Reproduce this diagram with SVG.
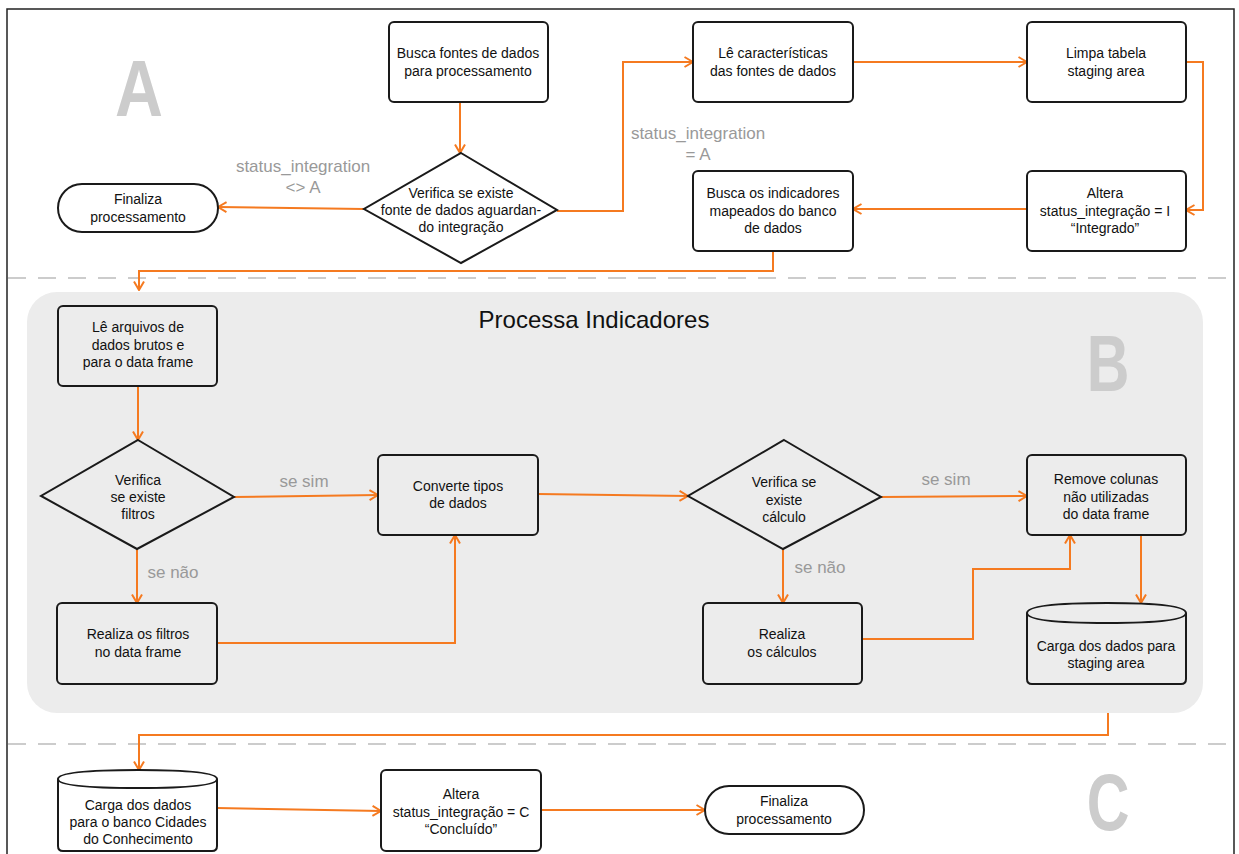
<svg xmlns="http://www.w3.org/2000/svg" width="1239" height="854" viewBox="0 0 1239 854">
  <style>
    .box { fill: #ffffff; stroke: #1a1a1a; stroke-width: 2; }
    .boxg { fill: #ececec; stroke: #1a1a1a; stroke-width: 2; }
    .t { font-family: "Liberation Sans", Arial, sans-serif; font-size: 14px; fill: #111; text-anchor: middle; }
    .lbl { font-family: "Liberation Sans", Arial, sans-serif; font-size: 17px; fill: #999; text-anchor: middle; }
    .big { font-family: "Liberation Sans", Arial, sans-serif; font-size: 80px; font-weight: bold; fill: #cccccc; text-anchor: middle; }
    .title { font-family: "Liberation Sans", Arial, sans-serif; font-size: 24px; fill: #111; text-anchor: middle; }
    .c { fill: none; stroke: #f57a20; stroke-width: 2; marker-end: url(#arr); }
    .dash { stroke: #cccccc; stroke-width: 2; stroke-dasharray: 18 12; }
  </style>
  <defs>
    <marker id="arr" viewBox="0 0 10 12" markerWidth="10" markerHeight="12" refX="9.5" refY="6" orient="auto" markerUnits="userSpaceOnUse">
      <path d="M1,1 L9.5,6 L1,11" fill="none" stroke="#f57a20" stroke-width="2"/>
    </marker>
  </defs>

  <rect width="1239" height="854" fill="#ffffff"/>

  <!-- outer frame -->
  <path d="M7,854 V9 H1234 V854" fill="none" stroke="#222" stroke-width="1.5"/>

  <!-- section separators -->
  <line class="dash" x1="8" y1="278" x2="1233" y2="278"/>
  <line class="dash" x1="8" y1="744" x2="1233" y2="744"/>

  <!-- section B panel -->
  <rect x="27" y="292" width="1176" height="421" rx="30" fill="#ececec"/>

  <!-- section letters -->
  <text class="big" transform="translate(139,116) scale(0.83,1)">A</text>
  <text class="big" transform="translate(1108,391) scale(0.74,1)">B</text>
  <text class="big" transform="translate(1108,830) scale(0.74,1)">C</text>

  <text class="title" x="594" y="328">Processa Indicadores</text>

  <!-- connectors -->
  <g id="connectors">
    <path class="c" d="M460,102 V153"/>
    <path class="c" d="M364,209 L218,207"/>
    <path class="c" d="M557,211 H623 V62 H693"/>
    <path class="c" d="M853,62 H1027"/>
    <path class="c" d="M1186,62 H1203 V210 H1186"/>
    <path class="c" d="M1027,209 H853"/>
    <path class="c" d="M773,251 V271 H139 V290"/>
    <path class="c" d="M138,386 V440"/>
    <path class="c" d="M234,497 L378,495"/>
    <path class="c" d="M137,549 V603"/>
    <path class="c" d="M217,643 H455 V535"/>
    <path class="c" d="M538,494 L688,496"/>
    <path class="c" d="M881,497 L1027,496"/>
    <path class="c" d="M783,549 V603"/>
    <path class="c" d="M862,639 H973 V569 H1070 V535"/>
    <path class="c" d="M1141,535 V603"/>
    <path class="c" d="M1108,713 V735 H139 V770"/>
    <path class="c" d="M217,808 L381,811"/>
    <path class="c" d="M541,810 H705"/>
  </g>

  <!-- connector labels -->
  <text class="lbl" x="303" y="172">status_integration</text>
  <text class="lbl" x="303" y="193">&lt;&gt; A</text>
  <text class="lbl" x="698" y="139">status_integration</text>
  <text class="lbl" x="698" y="160">= A</text>
  <text class="lbl" x="304" y="487">se sim</text>
  <text class="lbl" x="173" y="578">se não</text>
  <text class="lbl" x="946" y="485">se sim</text>
  <text class="lbl" x="820" y="573">se não</text>

  <!-- section A nodes -->
  <g id="busca-fontes">
    <rect class="box" x="389" y="22" width="159" height="80" rx="5"/>
    <text class="t" x="468" y="58">Busca fontes de dados</text>
    <text class="t" x="468" y="76">para processamento</text>
  </g>
  <g id="verifica-fonte">
    <polygon class="box" points="461,153 557,210 461,263 364,209"/>
    <text class="t" x="461" y="198">Verifica se existe</text>
    <text class="t" x="461" y="215">fonte de dados aguardan-</text>
    <text class="t" x="461" y="232">do integração</text>
  </g>
  <g id="finaliza-a">
    <rect class="box" x="58" y="184" width="160" height="48" rx="24"/>
    <text class="t" x="138" y="204">Finaliza</text>
    <text class="t" x="138" y="222">processamento</text>
  </g>
  <g id="le-caracteristicas">
    <rect class="box" x="693" y="22" width="160" height="80" rx="5"/>
    <text class="t" x="773" y="58">Lê características</text>
    <text class="t" x="773" y="76">das fontes de dados</text>
  </g>
  <g id="limpa-tabela">
    <rect class="box" x="1027" y="22" width="159" height="80" rx="5"/>
    <text class="t" x="1106" y="58">Limpa tabela</text>
    <text class="t" x="1106" y="76">staging area</text>
  </g>
  <g id="altera-i">
    <rect class="box" x="1027" y="171" width="159" height="80" rx="5"/>
    <text class="t" x="1105" y="198">Altera</text>
    <text class="t" x="1105" y="216">status_integração = I</text>
    <text class="t" x="1105" y="233">“Integrado”</text>
  </g>
  <g id="busca-indicadores">
    <rect class="box" x="693" y="171" width="160" height="80" rx="5"/>
    <text class="t" x="773" y="198">Busca os indicadores</text>
    <text class="t" x="773" y="216">mapeados do banco</text>
    <text class="t" x="773" y="233">de dados</text>
  </g>

  <!-- section B nodes -->
  <g id="le-arquivos">
    <rect class="boxg" x="58" y="306" width="159" height="80" rx="5"/>
    <text class="t" x="138" y="332">Lê arquivos de</text>
    <text class="t" x="138" y="350">dados brutos e</text>
    <text class="t" x="138" y="367">para o data frame</text>
  </g>
  <g id="verifica-filtros">
    <polygon class="boxg" points="138,440 234,497 137,549 41,496"/>
    <text class="t" x="138" y="485">Verifica</text>
    <text class="t" x="138" y="502">se existe</text>
    <text class="t" x="138" y="519">filtros</text>
  </g>
  <g id="realiza-filtros">
    <rect class="boxg" x="57" y="603" width="160" height="81" rx="5"/>
    <text class="t" x="138" y="639">Realiza os filtros</text>
    <text class="t" x="138" y="657">no data frame</text>
  </g>
  <g id="converte-tipos">
    <rect class="boxg" x="378" y="455" width="160" height="80" rx="5"/>
    <text class="t" x="458" y="491">Converte tipos</text>
    <text class="t" x="458" y="508">de dados</text>
  </g>
  <g id="verifica-calculo">
    <polygon class="boxg" points="784,440 881,497 783,549 688,496"/>
    <text class="t" x="784" y="487">Verifica se</text>
    <text class="t" x="784" y="505">existe</text>
    <text class="t" x="784" y="522">cálculo</text>
  </g>
  <g id="realiza-calculos">
    <rect class="boxg" x="703" y="603" width="159" height="81" rx="5"/>
    <text class="t" x="782" y="639">Realiza</text>
    <text class="t" x="782" y="657">os cálculos</text>
  </g>
  <g id="remove-colunas">
    <rect class="boxg" x="1027" y="455" width="159" height="80" rx="5"/>
    <text class="t" x="1106" y="484">Remove colunas</text>
    <text class="t" x="1106" y="502">não utilizadas</text>
    <text class="t" x="1106" y="519">do data frame</text>
  </g>
  <g id="carga-staging">
    <path class="boxg" d="M1027,613 Q1027,603 1107,603 Q1186,603 1186,613 V679 Q1186,684 1181,684 H1032 Q1027,684 1027,679 Z"/>
    <path d="M1027,613 Q1027,623 1107,623 Q1186,623 1186,613" fill="none" stroke="#1a1a1a" stroke-width="2"/>
    <text class="t" x="1106" y="651">Carga dos dados para</text>
    <text class="t" x="1106" y="668">staging area</text>
  </g>

  <!-- section C nodes -->
  <g id="carga-banco">
    <path class="box" d="M58,779 Q58,770 138,770 Q217,770 217,779 V846 Q217,851 212,851 H63 Q58,851 58,846 Z"/>
    <path d="M58,779 Q58,788 138,788 Q217,788 217,779" fill="none" stroke="#1a1a1a" stroke-width="2"/>
    <text class="t" x="138" y="810">Carga dos dados</text>
    <text class="t" x="138" y="827">para o banco Cidades</text>
    <text class="t" x="138" y="844">do Conhecimento</text>
  </g>
  <g id="altera-c">
    <rect class="box" x="381" y="770" width="160" height="81" rx="5"/>
    <text class="t" x="461" y="799">Altera</text>
    <text class="t" x="461" y="817">status_integração = C</text>
    <text class="t" x="461" y="834">“Concluído”</text>
  </g>
  <g id="finaliza-c">
    <rect class="box" x="705" y="786" width="159" height="48" rx="24"/>
    <text class="t" x="784" y="806">Finaliza</text>
    <text class="t" x="784" y="824">processamento</text>
  </g>
</svg>
